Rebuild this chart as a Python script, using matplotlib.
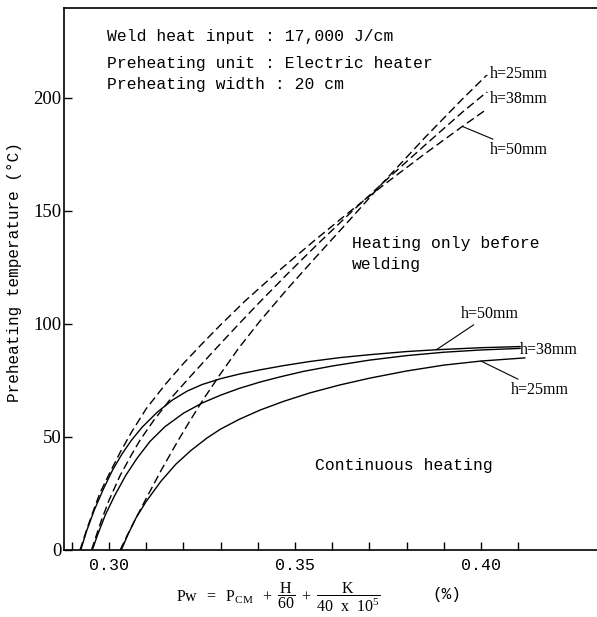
import matplotlib
matplotlib.use("Agg")
import matplotlib.pyplot as plt
from matplotlib.ticker import FixedLocator, NullFormatter

# ---------------- data ----------------
# Heating only before welding (dashed)
x_b25 = [0.3030, 0.3050, 0.3072, 0.3100, 0.3140, 0.3186, 0.3220, 0.3253, 0.3300,
         0.3350, 0.3406, 0.3480, 0.3560, 0.3648, 0.3737, 0.3850, 0.3950, 0.4015]
y_b25 = [0, 6.8, 14, 22.8, 35.2, 48.5, 57.8, 66.5, 78, 89.6, 101.3, 115.6, 130.3,
         146.2, 162.6, 182.6, 199.5, 210]

x_b38 = [0.2953, 0.2965, 0.2980, 0.3000, 0.3030, 0.3060, 0.3083, 0.3120, 0.3169,
         0.3220, 0.3280, 0.3340, 0.3400, 0.3480, 0.3560, 0.3648, 0.3737, 0.3850,
         0.3950, 0.4015]
y_b38 = [0, 6, 13.3, 22, 33, 42, 48.5, 57.3, 67.6, 77, 87.8, 98.4, 108.8, 122.2,
         135.2, 149, 162.5, 179.2, 193.7, 202.5]

x_b50 = [0.2922, 0.2940, 0.2955, 0.2975, 0.3000, 0.3030, 0.3060, 0.3100, 0.3150,
         0.3200, 0.3250, 0.3300, 0.3366, 0.3450, 0.3550, 0.3648, 0.3740, 0.3850,
         0.3950, 0.4011]
y_b50 = [0, 9, 16, 25, 33.5, 43.2, 52, 62.5, 73, 82.5, 91.2, 99.6, 110.2, 122.6,
         136.6, 149.8, 161.7, 175.4, 187.4, 194.5]

# Continuous heating (solid)
x_c25 = [0.3033, 0.3050, 0.3072, 0.3100, 0.3140, 0.3180, 0.3220, 0.3263, 0.3300,
         0.3350, 0.3406, 0.3470, 0.3540, 0.3620, 0.3700, 0.3800, 0.3900, 0.4000,
         0.4118]
y_c25 = [0, 6.5, 14, 21.5, 30.5, 38, 44, 49.5, 53.5, 57.8, 61.9, 65.8, 69.5, 73,
         76, 79.2, 81.8, 83.6, 85]

x_c38 = [0.2955, 0.2970, 0.2990, 0.3015, 0.3045, 0.3075, 0.3110, 0.3150, 0.3200,
         0.3250, 0.3300, 0.3350, 0.3406, 0.3460, 0.3522, 0.3600, 0.3700, 0.3800,
         0.3900, 0.4000, 0.4105]
y_c38 = [0, 7, 15.5, 24, 33, 40.5, 48, 54.5, 60.5, 65, 68.5, 71.5, 74.3, 76.6, 79,
         81.4, 84, 86, 87.5, 88.5, 89.2]

x_c50 = [0.2924, 0.2940, 0.2960, 0.2985, 0.3010, 0.3035, 0.3060, 0.3090, 0.3130,
         0.3170, 0.3210, 0.3250, 0.3300, 0.3352, 0.3406, 0.3470, 0.3540, 0.3620,
         0.3700, 0.3800, 0.3880, 0.4000, 0.4105]
y_c50 = [0, 8.5, 17.5, 27, 35.5, 42.5, 48.5, 54.5, 61, 66.3, 70.3, 73.2, 75.8,
         77.9, 79.7, 81.6, 83.4, 85.1, 86.4, 87.8, 88.6, 89.5, 90]

x_major = [0.30, 0.35, 0.40]
x_major_labels = ["0.30", "0.35", "0.40"]
x_minor = [0.29, 0.31, 0.32, 0.33, 0.34, 0.36, 0.37, 0.38, 0.39, 0.41]
y_ticks = [0, 50, 100, 150, 200]
y_tick_labels = ["0", "50", "100", "150", "200"]

info_lines = ["Weld heat input : 17,000 J/cm",
              "Preheating unit : Electric heater",
              "Preheating width : 20 cm"]

# ---------------- figure ----------------
plt.rcParams["mathtext.fontset"] = "custom"
plt.rcParams["mathtext.rm"] = "Liberation Serif"
plt.rcParams["mathtext.it"] = "Liberation Serif:italic"

fig = plt.figure(figsize=(5.97, 6.17), dpi=100)
ax = fig.add_axes([64 / 597, 1 - 550 / 617, 533 / 597, 542 / 617])

dash = (0, (6.0, 3.0))
lw = 1.0
ax.plot(x_b25, y_b25, color="black", lw=lw, linestyle=dash)
ax.plot(x_b38, y_b38, color="black", lw=lw, linestyle=dash)
ax.plot(x_b50, y_b50, color="black", lw=lw, linestyle=dash)
ax.plot(x_c25, y_c25, color="black", lw=lw)
ax.plot(x_c38, y_c38, color="black", lw=lw)
ax.plot(x_c50, y_c50, color="black", lw=lw)

ax.set_xlim(0.2879, 0.4312)
ax.set_ylim(0, 239.8)

for s in ["left", "bottom", "top"]:
    ax.spines[s].set_linewidth(1.2)
ax.spines["right"].set_visible(False)

ax.xaxis.set_major_locator(FixedLocator(x_major))
ax.set_xticklabels(x_major_labels, fontfamily="Liberation Mono", fontsize=12)
ax.xaxis.set_minor_locator(FixedLocator(x_minor))
ax.xaxis.set_minor_formatter(NullFormatter())
ax.set_yticks(y_ticks)
ax.set_yticklabels(y_tick_labels, fontfamily="Liberation Serif", fontsize=13.5)
ax.tick_params(axis="both", which="both", direction="in", length=6, width=1.0,
               top=False, right=False)
ax.tick_params(axis="x", which="major", pad=6)
ax.tick_params(axis="y", which="major", pad=2)

mono = "Liberation Mono"
serif = "Liberation Serif"

# info block
for i, line in enumerate(info_lines):
    ax.text(0.0807, [0.9465, 0.8985, 0.858][i], line, transform=ax.transAxes,
            fontfamily=mono, fontsize=11.8, va="center", ha="left")

ax.text(0.3653, 131, "Heating only before\nwelding", fontfamily=mono,
        fontsize=11.8, va="center", ha="left", linespacing=1.55)
ax.text(0.3554, 37.6, "Continuous heating", fontfamily=mono, fontsize=11.8,
        va="center", ha="left")

arrow = dict(arrowstyle="-", lw=0.8, shrinkA=0, shrinkB=0)
# labels of the dashed curves
ax.annotate("h=25mm", xy=(x_b25[-1], y_b25[-1]), xytext=(0.4024, 210.5),
            fontfamily=serif, fontsize=11.5, va="center", ha="left", arrowprops=arrow)
ax.annotate("h=38mm", xy=(x_b38[-1], y_b38[-1]), xytext=(0.4024, 199.6),
            fontfamily=serif, fontsize=11.5, va="center", ha="left", arrowprops=arrow)
ax.annotate("h=50mm", xy=(x_b50[-2], y_b50[-2]), xytext=(0.4024, 177),
            fontfamily=serif, fontsize=11.5, va="center", ha="left", arrowprops=arrow)

# labels of the solid curves
ax.annotate("h=50mm", xy=(x_c50[-3], y_c50[-3]), xytext=(0.3946, 104.4),
            fontfamily=serif, fontsize=11.5, va="center", ha="left", arrowprops=arrow)
ax.annotate("h=38mm", xy=(x_c38[-1], y_c38[-1]), xytext=(0.4105, 88.5),
            fontfamily=serif, fontsize=11.5, va="center", ha="left")
ax.annotate("h=25mm", xy=(x_c25[-2], y_c25[-2]), xytext=(0.4081, 70.8),
            fontfamily=serif, fontsize=11.5, va="center", ha="left", arrowprops=arrow)

# axis labels
fig.text(15 / 597, 1 - 272 / 617, "Preheating temperature (\u00b0C)",
         rotation=90, fontfamily=mono, fontsize=11.5, ha="center", va="center")
fig.text(176 / 597, 1 - 597 / 617,
         r"$\mathrm{Pw\ \ =\ \ P_{CM}\ \ +\ \dfrac{H}{60}\ +\ \dfrac{K}{40\ \ x\ \ 10^5}}$",
         fontsize=11.5, ha="left", va="center")
fig.text(432 / 597, 1 - 595 / 617, "(%)", fontfamily=mono, fontsize=11.5,
         ha="left", va="center")

fig.savefig("out.png", dpi=100)
